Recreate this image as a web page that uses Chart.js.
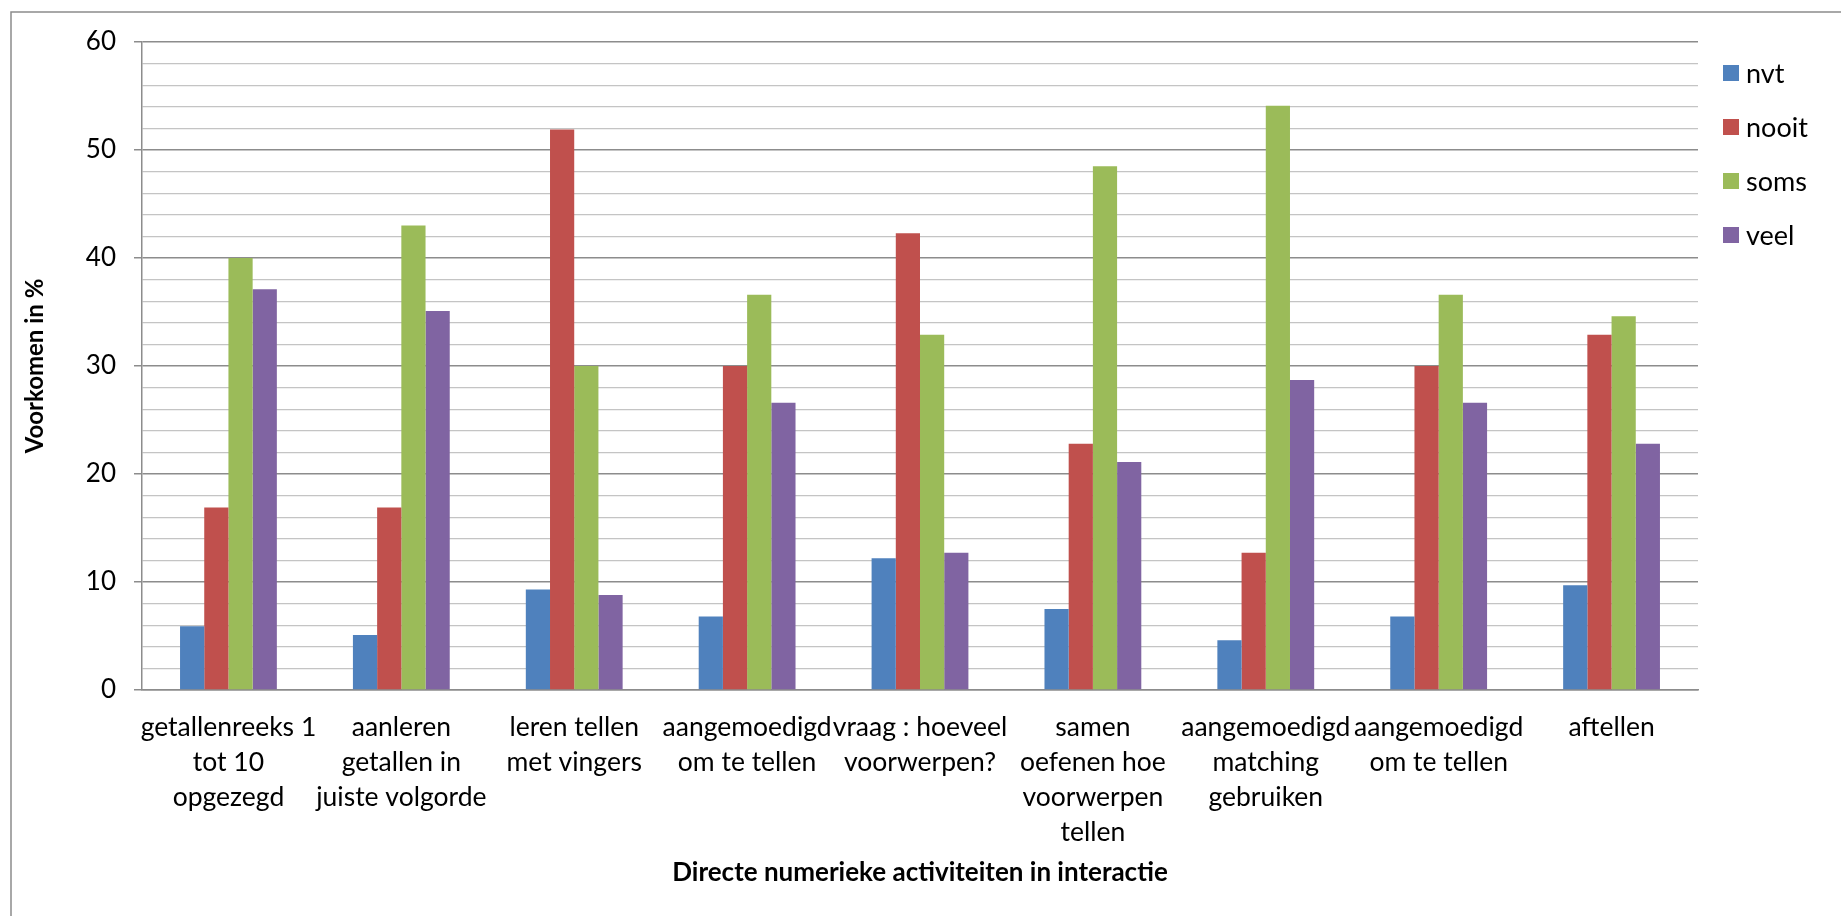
<!DOCTYPE html>
<html>
<head>
<meta charset="utf-8">
<script src="https://cdn.jsdelivr.net/npm/chart.js@4/dist/chart.umd.min.js"></script>
<style>
  html, body { margin: 0; padding: 0; background: #fff; }
  canvas { display: block; }
</style>
</head>
<body>
<canvas id="chart" width="1841" height="916"></canvas>
<script>
// categories (multi-line tick labels)
const activities = [
  ['getallenreeks 1', 'tot 10', 'opgezegd'],
  ['aanleren', 'getallen in', 'juiste volgorde'],
  ['leren tellen', 'met vingers'],
  ['aangemoedigd', 'om te tellen'],
  ['vraag : hoeveel', 'voorwerpen?'],
  ['samen', 'oefenen hoe', 'voorwerpen', 'tellen'],
  ['aangemoedigd', 'matching', 'gebruiken'],
  ['aangemoedigd', 'om te tellen'],
  ['aftellen']
];

// percentages per answer
const nvt   = [5.9, 5.1, 9.3, 6.8, 12.2, 7.5, 4.6, 6.8, 9.7];
const nooit = [16.9, 16.9, 51.9, 30.0, 42.3, 22.8, 12.7, 30.0, 32.9];
const soms  = [40.0, 43.0, 30.0, 36.6, 32.9, 48.5, 54.1, 36.6, 34.6];
const veel  = [37.1, 35.1, 8.8, 26.6, 12.7, 21.1, 28.7, 26.6, 22.8];

const seriesNames = ['nvt', 'nooit', 'soms', 'veel'];
const yTicksMajor = [0, 10, 20, 30, 40, 50, 60];

const colors = ['#4F81BD', '#C0504D', '#9BBB59', '#8064A2'];
const font = 'Lato';

// white page + outer frame
const frame = {
  id: 'frame',
  beforeDraw(chart) {
    const ctx = chart.ctx;
    ctx.save();
    ctx.fillStyle = '#fff';
    ctx.fillRect(0, 0, chart.width, chart.height);
    ctx.strokeStyle = '#8c8c8c';
    ctx.lineWidth = 1.5;
    ctx.beginPath();
    ctx.moveTo(11, chart.height);
    ctx.lineTo(11, 12);
    ctx.lineTo(chart.width, 12);
    ctx.stroke();
    ctx.restore();
  }
};

// legend on the right, one row per series
const sideLegend = {
  id: 'sideLegend',
  afterDraw(chart) {
    const ctx = chart.ctx;
    ctx.save();
    ctx.font = '27px ' + font;
    ctx.textBaseline = 'middle';
    chart.data.datasets.forEach((ds, i) => {
      const y = 73 + i * 54;
      ctx.fillStyle = ds.backgroundColor;
      ctx.fillRect(1723, y - 8, 16, 16);
      ctx.fillStyle = '#000';
      ctx.fillText(ds.label, 1746, y + 1);
    });
    ctx.restore();
  }
};

const datasets = [nvt, nooit, soms, veel].map((vals, i) => ({
  label: seriesNames[i],
  data: vals,
  backgroundColor: colors[i],
  borderWidth: 0,
  barPercentage: 1,
  categoryPercentage: 0.56
}));

new Chart(document.getElementById('chart'), {
  type: 'bar',
  data: { labels: activities, datasets: datasets },
  plugins: [frame, sideLegend],
  options: {
    responsive: false,
    animation: false,
    devicePixelRatio: 1,
    layout: { padding: { left: 0, top: 42, right: 1841 - 1698, bottom: 0 } },
    plugins: {
      legend: { display: false },
      tooltip: { enabled: false }
    },
    scales: {
      x: {
        grid: { display: true, drawOnChartArea: false, drawTicks: false },
        border: { display: true, color: '#8c8c8c', width: 1.5 },
        ticks: {
          color: '#000',
          padding: 20,
          maxRotation: 0,
          autoSkip: false,
          font: { family: font, size: 26.5, lineHeight: '35px' }
        },
        title: {
          display: true,
          text: 'Directe numerieke activiteiten in interactie',
          color: '#000',
          font: { family: font, size: 26, weight: 'bold', lineHeight: '32px' },
          padding: { top: 0, bottom: 27 }
        },
        afterFit(scale) { scale.height = 916 - 690; }
      },
      y: {
        min: 0,
        max: 60,
        ticks: {
          stepSize: 2,
          autoSkip: false,
          color: '#000',
          padding: 18,
          font: { family: font, size: 26 },
          callback: v => yTicksMajor.includes(v) ? v : ''
        },
        grid: {
          color: ctx => ctx.tick && ctx.tick.value % 10 === 0 ? '#8c8c8c' : '#c4c4c4',
          lineWidth: ctx => ctx.tick && ctx.tick.value % 10 === 0 ? 1.5 : 1.2,
          tickColor: ctx => ctx.tick && ctx.tick.value % 10 === 0 ? '#8c8c8c' : 'rgba(0,0,0,0)',
          tickLength: 8
        },
        border: { display: true, color: '#8c8c8c', width: 1.5 },
        title: {
          display: true,
          text: 'Voorkomen in %',
          color: '#000',
          font: { family: font, size: 24, weight: 'bold', lineHeight: '30px' },
          padding: { top: 20, bottom: 0 }
        },
        afterFit(scale) { scale.width = 142; }
      }
    }
  }
});
</script>
</body>
</html>
